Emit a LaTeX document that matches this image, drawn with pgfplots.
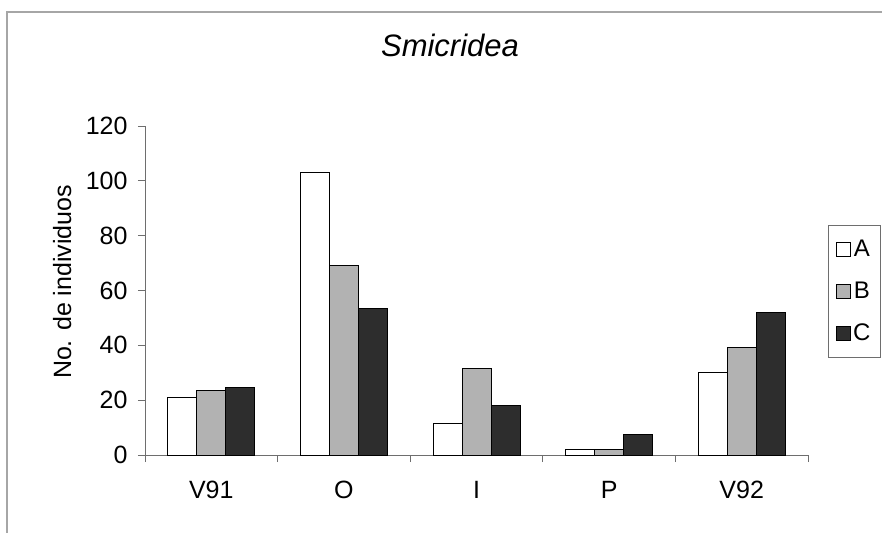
\documentclass[border=0pt]{standalone}
\usepackage{pgfplots}
\pgfplotsset{compat=1.18}
\usetikzlibrary{calc}
\usepackage{fontspec}
\setmainfont{Liberation Sans}
\definecolor{barB}{RGB}{178,178,178}
\definecolor{barC}{RGB}{45,45,45}
\definecolor{axgray}{RGB}{110,110,110}
\begin{document}
\begin{tikzpicture}[x=1pt,y=1pt]
\begin{axis}[
  scale only axis, width=663pt, height=329pt,
  xmin=-0.5, xmax=4.5, ymin=0, ymax=120,
  axis x line*=bottom, axis y line*=left,
  axis line style={axgray, line width=0.8pt},
  every tick/.style={axgray, line width=0.8pt},
  tick align=outside, major tick length=7pt,
  ytick={0,20,...,120},
  xtick={-0.5,0.5,...,4.5}, xticklabels={},
  extra x ticks={0,1,2,3,4},
  extra x tick labels={V91,O,I,P,V92},
  extra x tick style={major tick length=0pt, tick label style={yshift=-23pt}},
  /pgf/number format/assume math mode=true,
  tick label style={font=\fontsize{25}{29}\selectfont},
  yticklabel style={xshift=-7pt},
  ylabel={No. de individuos},
  ylabel style={at={(axis description cs:-0.125,0.526)}, anchor=center, font=\fontsize{25}{29}\selectfont},
  ybar=0pt, bar width=29pt,
  legend style={at={(axis description cs:1.030,0.70)}, anchor=north west,
    draw=axgray, line width=0.8pt, font=\fontsize{24}{28}\selectfont,
    row sep=20pt, inner xsep=8pt, inner ysep=13pt,
    /tikz/every even column/.append style={column sep=2pt}},
  legend image code/.code={\draw[#1, line width=0.8pt] (0pt,-7pt) rectangle (14pt,7pt);},
]
\addplot[draw=black, line width=1pt, fill=white] coordinates {(0,21) (1,103) (2,11.5) (3,2) (4,30)};
\addplot[draw=black, line width=1pt, fill=barB] coordinates {(0,23.4) (1,69) (2,31.7) (3,2) (4,39.3)};
\addplot[draw=black, line width=1pt, fill=barC] coordinates {(0,24.8) (1,53.3) (2,18) (3,7.3) (4,52)};
\legend{A,B,C}
\coordinate (SW) at (rel axis cs:0,0);
\end{axis}
\pgfresetboundingbox
\path[use as bounding box] ($(SW)+(-145,-77)$) rectangle ++(882,532);
\begin{scope}[shift={($(SW)+(-145,-77)$)}]
\clip (0,0) rectangle (882,532);
\draw[gray!70, line width=1.5pt] (7,-10) -- (7,520) -- (900,520);
\node[font=\fontsize{31}{36}\selectfont\itshape] at (450,487) {Smicridea};
\end{scope}
\end{tikzpicture}
\end{document}
